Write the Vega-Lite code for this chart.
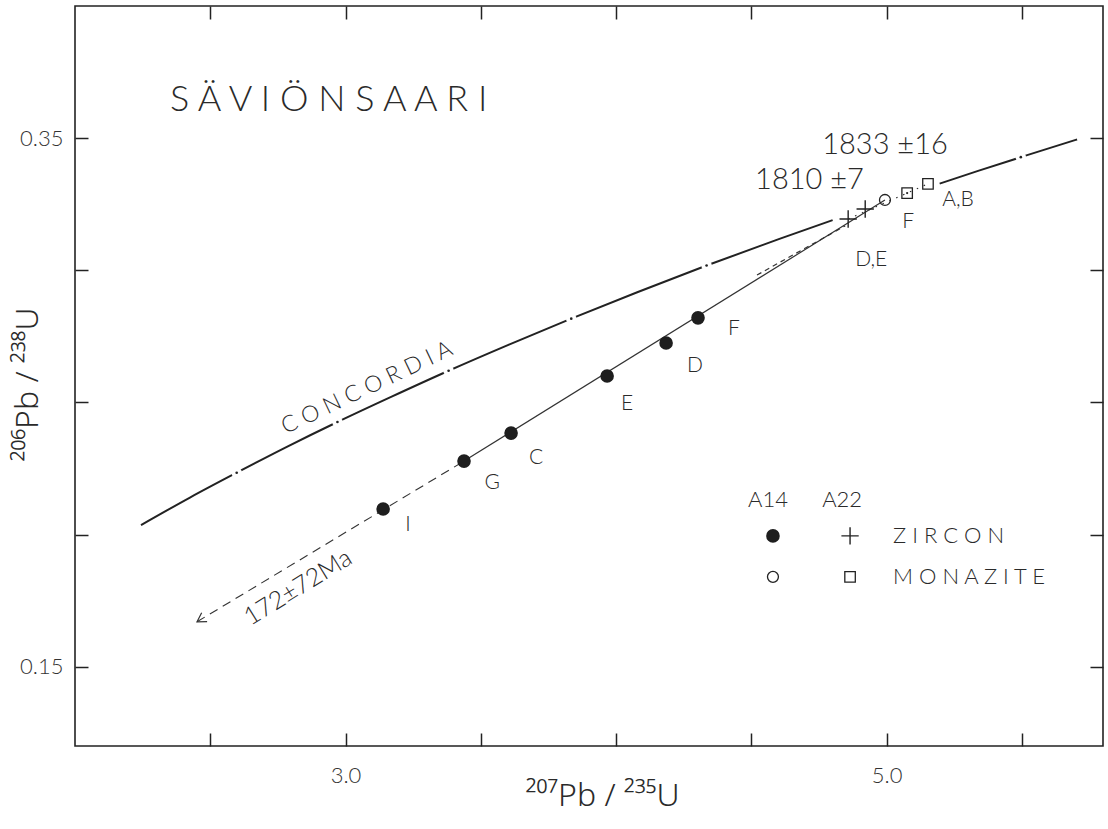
{
  "$schema": "https://vega.github.io/schema/vega-lite/v6.json",
  "width": 1028,
  "height": 740,
  "autosize": "none",
  "padding": {"left": 75, "top": 6, "right": 5, "bottom": 83},
  "background": "white",
  "config": {
    "view": {"stroke": "#222", "strokeWidth": 1.6},
    "font": "Lato",
    "text": {"font": "Lato", "color": "#2a2a2a", "fontWeight": 300}
  },
  "datasets": {
    "concordia": [
      {"x": 2.244, "y": 0.2036, "seg": "a"},
      {"x": 2.4249, "y": 0.2140, "seg": "a"},
      {"x": 2.5977, "y": 0.2234, "seg": "a"},
      {"x": 2.7794, "y": 0.2330, "seg": "a"},
      {"x": 2.9701, "y": 0.2426, "seg": "a"},
      {"x": 3.1705, "y": 0.2522, "seg": "a"},
      {"x": 3.3810, "y": 0.2620, "seg": "a"},
      {"x": 3.6021, "y": 0.2718, "seg": "a"},
      {"x": 3.8344, "y": 0.2817, "seg": "a"},
      {"x": 4.0784, "y": 0.2917, "seg": "a"},
      {"x": 4.3347, "y": 0.3018, "seg": "a"},
      {"x": 4.6040, "y": 0.3119, "seg": "a"},
      {"x": 4.8006, "y": 0.3190, "seg": "a"},
      {"x": 5.1962, "y": 0.3328, "seg": "b"},
      {"x": 5.3383, "y": 0.3376, "seg": "b"},
      {"x": 5.4962, "y": 0.3428, "seg": "b"},
      {"x": 5.7042, "y": 0.3495, "seg": "b"}
    ],
    "ticks": [
      {"x": 2.5977, "y": 0.2234, "age": 1300},
      {"x": 2.9701, "y": 0.2426, "age": 1400},
      {"x": 3.3810, "y": 0.2620, "age": 1500},
      {"x": 3.8344, "y": 0.2817, "age": 1600},
      {"x": 4.3347, "y": 0.3018, "age": 1700},
      {"x": 5.4962, "y": 0.3428, "age": 1900}
    ],
    "a14lower": [
      {"x": 2.451, "y": 0.1670},
      {"x": 3.438, "y": 0.2278}
    ],
    "a14upper": [
      {"x": 3.438, "y": 0.2278},
      {"x": 4.994, "y": 0.3266}
    ],
    "a22dashed": [
      {"x": 4.521, "y": 0.2982},
      {"x": 4.847, "y": 0.3168}
    ],
    "a22dotted": [
      {"x": 4.858, "y": 0.3194},
      {"x": 5.153, "y": 0.3327}
    ],
    "arrow": [{"x": 2.451, "y": 0.1670}],
    "a14zircon": [
      {"x": 3.139, "y": 0.2097, "grain": "I"},
      {"x": 3.438, "y": 0.2278, "grain": "G"},
      {"x": 3.612, "y": 0.2384, "grain": "C"},
      {"x": 3.967, "y": 0.2600, "grain": "E"},
      {"x": 4.185, "y": 0.2725, "grain": "D"},
      {"x": 4.303, "y": 0.2820, "grain": "F"},
      {"x": 4.580, "y": 0.1995, "grain": "legend"}
    ],
    "a22zircon": [
      {"x": 4.858, "y": 0.3194, "grain": "D"},
      {"x": 4.921, "y": 0.3232, "grain": "E"},
      {"x": 4.865, "y": 0.1995, "grain": "legend"}
    ],
    "a14monazite": [
      {"x": 4.994, "y": 0.3266, "grain": "M"},
      {"x": 4.580, "y": 0.1840, "grain": "legend"}
    ],
    "a22monazite": [
      {"x": 5.076, "y": 0.3292, "grain": "F"},
      {"x": 5.153, "y": 0.3327, "grain": "A,B"},
      {"x": 4.865, "y": 0.1840, "grain": "legend"}
    ],
    "titleText": [{"x": 2.351, "y": 0.3644, "text": "S Ä V I Ö N S A A R I"}],
    "ages": [
      {"x": 4.762, "y": 0.3474, "text": "1833 ±16"},
      {"x": 4.514, "y": 0.3342, "text": "1810 ±7"}
    ],
    "grainLabels": [
      {"x": 3.231, "y": 0.2036, "text": "I"},
      {"x": 3.542, "y": 0.2195, "text": "G"},
      {"x": 3.704, "y": 0.2290, "text": "C"},
      {"x": 4.041, "y": 0.2494, "text": "E"},
      {"x": 4.292, "y": 0.2638, "text": "D"},
      {"x": 4.436, "y": 0.2778, "text": "F"},
      {"x": 4.943, "y": 0.3039, "text": "D,E"},
      {"x": 5.080, "y": 0.3183, "text": "F"},
      {"x": 5.264, "y": 0.3266, "text": "A,B"}
    ],
    "legendText": [
      {"x": 4.488, "y": 0.2131, "text": "A14"},
      {"x": 4.762, "y": 0.2131, "text": "A22"},
      {"x": 5.024, "y": 0.1995, "text": "Z I R C O N"},
      {"x": 5.024, "y": 0.1840, "text": "M O N A Z I T E"}
    ],
    "concordiaLabel": [{"x": 3.079, "y": 0.2555, "text": "C O N C O R D I A"}],
    "interceptLabel": [{"x": 2.824, "y": 0.1800, "text": "172±72Ma"}]
  },
  "encoding": {
    "x": {"field": "x", "type": "quantitative", "scale": {"domain": [2.0, 5.8], "nice": false, "zero": false}, "axis": null},
    "y": {"field": "y", "type": "quantitative", "scale": {"domain": [0.12, 0.40], "nice": false, "zero": false}, "axis": null}
  },
  "layer": [
    {
      "data": {"name": "concordia"},
      "mark": {"type": "line", "color": "#222", "strokeWidth": 2, "interpolate": "monotone"},
      "encoding": {
        "x": {"field": "x", "type": "quantitative", "axis": {
          "orient": "bottom", "values": [3, 5], "ticks": false, "domain": false, "grid": false,
          "labelExpr": "format(datum.value, '.1f')", "labelPadding": 19, "labelFontSize": 22, "labelColor": "#333", "labelFont": "Lato", "labelFontWeight": 300,
          "title": "²⁰⁷Pb / ²³⁵U", "titleFontSize": 32, "titleFontWeight": 300, "titleColor": "#2a2a2a", "titleFont": "Noto Sans",
          "titleX": 527, "titleY": 59, "titleAlign": "center", "titleBaseline": "alphabetic"
        }},
        "y": {"field": "y", "type": "quantitative", "axis": {
          "orient": "left", "values": [0.15, 0.35], "ticks": false, "domain": false, "grid": false,
          "labelExpr": "format(datum.value, '.2f')", "labelPadding": 12, "labelFontSize": 22, "labelColor": "#333", "labelFont": "Lato", "labelFontWeight": 300,
          "title": "²⁰⁶Pb / ²³⁸U", "titleFontSize": 32, "titleFontWeight": 300, "titleColor": "#2a2a2a", "titleFont": "Noto Sans",
          "titleX": -48, "titleY": 378, "titleAlign": "center", "titleBaseline": "middle", "titleAngle": -90
        }},
        "detail": {"field": "seg"}
      }
    },
    {
      "data": {"name": "ticks"},
      "mark": {"type": "point", "shape": "circle", "filled": true, "color": "white", "size": 110, "opacity": 1},
      "encoding": {
        "x": {"field": "x", "type": "quantitative", "axis": {
          "orient": "bottom", "values": [2.5, 3, 3.5, 4, 4.5, 5, 5.5], "labels": false, "domain": false, "grid": false,
          "tickSize": -13, "tickWidth": 1.5, "tickColor": "#222", "title": null
        }},
        "y": {"field": "y", "type": "quantitative", "axis": {
          "orient": "left", "values": [0.15, 0.2, 0.25, 0.3, 0.35], "labels": false, "domain": false, "grid": false,
          "tickSize": -13, "tickWidth": 1.5, "tickColor": "#222", "title": null
        }}
      }
    },
    {
      "data": {"name": "ticks"},
      "mark": {"type": "point", "shape": "circle", "filled": true, "color": "#222", "size": 7, "opacity": 1},
      "encoding": {
        "x": {"field": "x", "type": "quantitative", "axis": {
          "orient": "top", "values": [2.5, 3, 3.5, 4, 4.5, 5, 5.5], "labels": false, "domain": false, "grid": false,
          "tickSize": -13, "tickWidth": 1.5, "tickColor": "#222", "title": null
        }},
        "y": {"field": "y", "type": "quantitative", "axis": {
          "orient": "right", "values": [0.15, 0.2, 0.25, 0.3, 0.35], "labels": false, "domain": false, "grid": false,
          "tickSize": -13, "tickWidth": 1.5, "tickColor": "#222", "title": null
        }}
      }
    },
    {
      "data": {"name": "a14lower"},
      "mark": {"type": "line", "color": "#333", "strokeWidth": 1.1, "strokeDash": [9, 6]},
      "encoding": {}
    },
    {
      "data": {"name": "a14upper"},
      "mark": {"type": "line", "color": "#333", "strokeWidth": 1.2},
      "encoding": {}
    },
    {
      "data": {"name": "a22dashed"},
      "mark": {"type": "line", "color": "#333", "strokeWidth": 1.2, "strokeDash": [5, 4]},
      "encoding": {}
    },
    {
      "data": {"name": "a22dotted"},
      "mark": {"type": "line", "color": "#333", "strokeWidth": 1.2, "strokeDash": [1.5, 6]},
      "encoding": {}
    },
    {
      "data": {"name": "arrow"},
      "mark": {"type": "point", "shape": "M-1,-0.6L0,0L-1,0.6", "filled": false, "color": "#333", "strokeWidth": 1.2, "size": 300, "angle": 148.4, "opacity": 1}
    },
    {
      "data": {"name": "a14zircon"},
      "mark": {"type": "point", "shape": "circle", "filled": true, "color": "#1e1e1e", "size": 185, "opacity": 1}
    },
    {
      "data": {"name": "a22zircon"},
      "mark": {"type": "point", "shape": "M-1,0L1,0M0,-1L0,1", "filled": false, "color": "#222", "strokeWidth": 1.4, "size": 300, "opacity": 1}
    },
    {
      "data": {"name": "a14monazite"},
      "mark": {"type": "point", "shape": "circle", "filled": false, "color": "#222", "strokeWidth": 1.3, "size": 120, "opacity": 1}
    },
    {
      "data": {"name": "a22monazite"},
      "mark": {"type": "point", "shape": "square", "filled": false, "color": "#222", "strokeWidth": 1.3, "size": 110, "opacity": 1}
    },
    {
      "data": {"name": "a22monazite"},
      "transform": [{"filter": "datum.grain == 'F'"}],
      "mark": {"type": "point", "shape": "circle", "filled": true, "color": "#222", "size": 5, "opacity": 1}
    },
    {
      "data": {"name": "titleText"},
      "mark": {"type": "text", "fontSize": 36, "align": "left", "baseline": "middle"},
      "encoding": {"text": {"field": "text"}}
    },
    {
      "data": {"name": "ages"},
      "mark": {"type": "text", "fontSize": 29, "align": "left", "baseline": "middle"},
      "encoding": {"text": {"field": "text"}}
    },
    {
      "data": {"name": "grainLabels"},
      "mark": {"type": "text", "fontSize": 21, "align": "center", "baseline": "middle"},
      "encoding": {"text": {"field": "text"}}
    },
    {
      "data": {"name": "legendText"},
      "mark": {"type": "text", "fontSize": 22, "align": "left", "baseline": "middle"},
      "encoding": {"text": {"field": "text"}}
    },
    {
      "data": {"name": "concordiaLabel"},
      "mark": {"type": "text", "fontSize": 23, "align": "center", "baseline": "middle", "angle": -25.5},
      "encoding": {"text": {"field": "text"}}
    },
    {
      "data": {"name": "interceptLabel"},
      "mark": {"type": "text", "fontSize": 25, "align": "center", "baseline": "middle", "angle": -31.7},
      "encoding": {"text": {"field": "text"}}
    }
  ],
  "resolve": {"axis": {"x": "independent", "y": "independent"}}
}
